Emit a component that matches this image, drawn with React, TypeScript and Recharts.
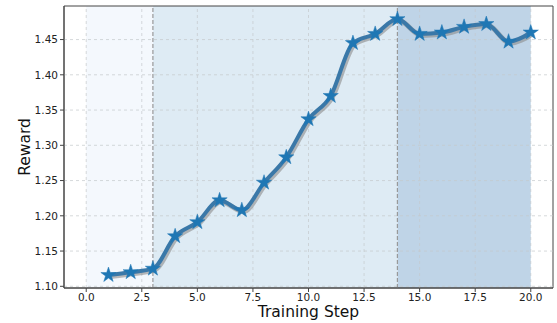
import React from 'react';
import {
  ComposedChart, Line, XAxis, YAxis, ReferenceArea, ReferenceLine,
} from 'recharts';

const steps = [1, 2, 3, 4, 5, 6, 7, 8, 9, 10, 11, 12, 13, 14, 15, 16, 17, 18, 19, 20];
const rewards = [
  1.116, 1.120, 1.125, 1.171, 1.191, 1.222, 1.208, 1.247, 1.283, 1.337,
  1.370, 1.445, 1.458, 1.479, 1.458, 1.460, 1.468, 1.472, 1.447, 1.460,
];
const xTicks = [0, 2.5, 5, 7.5, 10, 12.5, 15, 17.5, 20];
const yTicks = [1.1, 1.15, 1.2, 1.25, 1.3, 1.35, 1.4, 1.45];
// phase boundaries on the step axis
const phases = [
  { from: 0, to: 3, color: '#f4f8fd' },
  { from: 3, to: 14, color: '#deebf4' },
  { from: 14, to: 20, color: '#bfd4e7' },
];
const dividers = [3, 14];

const data = steps.map((s, i) => ({ step: s, reward: rewards[i] }));

const X_DOMAIN: [number, number] = [-1, 21];
const Y_DOMAIN: [number, number] = [1.0976, 1.4976];
const FONT = 'DejaVu Sans, sans-serif';

const Star = (props: any) => {
  const { cx, cy } = props;
  if (cx == null || cy == null) return null;
  const outer = 8;
  const inner = outer * 0.382;
  const pts: string[] = [];
  for (let k = 0; k < 10; k++) {
    const r = k % 2 === 0 ? outer : inner;
    const a = -Math.PI / 2 + (k * Math.PI) / 5;
    pts.push(`${cx + r * Math.cos(a)},${cy + r * Math.sin(a)}`);
  }
  return <polygon points={pts.join(' ')} fill="#1f77b4" stroke="#1f77b4" strokeWidth={0.5} />;
};

export default function App() {
  return (
    <div style={{ position: 'absolute', left: 0, top: 0, width: 557, height: 323, background: '#fff' }}>
      <style>{`.shadow-line path { transform: translate(1.5px, 1.5px); }`}</style>
      <ComposedChart width={557} height={323} data={data} margin={{ top: 6, right: 4, left: 0, bottom: 0 }}>
        {phases.map((p) => (
          <ReferenceArea key={p.from} x1={p.from} x2={p.to} y1={Y_DOMAIN[0]} y2={Y_DOMAIN[1]}
            fill={p.color} fillOpacity={1} stroke="none" ifOverflow="visible" />
        ))}
        {/* grid drawn above the shaded phases */}
        {xTicks.map((t) => (
          <ReferenceLine key={'gx' + t} x={t} stroke="#c4c8cc" strokeDasharray="3 3" strokeWidth={0.7} />
        ))}
        {yTicks.map((t) => (
          <ReferenceLine key={'gy' + t} y={t} stroke="#c4c8cc" strokeDasharray="3 3" strokeWidth={0.7} />
        ))}
        {dividers.map((d) => (
          <ReferenceLine key={d} x={d} stroke="#999" strokeDasharray="4 2" strokeWidth={1.2} />
        ))}
        <XAxis dataKey="step" type="number" domain={X_DOMAIN} ticks={xTicks} allowDataOverflow
          tickFormatter={(v: number) => v.toFixed(1)} height={35} tickSize={4}
          axisLine={{ stroke: '#444' }} tickLine={{ stroke: '#444' }}
          tick={{ fontSize: 10.5, fill: '#222', fontFamily: FONT }}
          label={{ value: 'Training Step', position: 'insideBottom', offset: 6, fontSize: 15.5, fill: '#111', fontFamily: FONT }} />
        <YAxis type="number" domain={Y_DOMAIN} ticks={yTicks} allowDataOverflow
          tickFormatter={(v: number) => v.toFixed(2)} width={64} tickSize={4}
          axisLine={{ stroke: '#444' }} tickLine={{ stroke: '#444' }}
          tick={{ fontSize: 10.5, fill: '#222', fontFamily: FONT }}
          label={{ value: 'Reward', angle: -90, position: 'insideLeft', offset: 24, fontSize: 15.5, fill: '#111', fontFamily: FONT, style: { textAnchor: 'middle' } }} />
        <ReferenceArea x1={X_DOMAIN[0]} x2={X_DOMAIN[1]} y1={Y_DOMAIN[0]} y2={Y_DOMAIN[1]}
          fill="none" stroke="#444" strokeWidth={1} ifOverflow="visible" />
        <Line className="shadow-line" type="monotone" dataKey="reward" stroke="#8c8c8c" strokeOpacity={0.6}
          strokeWidth={5} dot={false} activeDot={false} isAnimationActive={false} />
        <Line type="monotone" dataKey="reward" stroke="#3a78a8" strokeWidth={4}
          dot={<Star />} activeDot={false} isAnimationActive={false} />
      </ComposedChart>
    </div>
  );
}
